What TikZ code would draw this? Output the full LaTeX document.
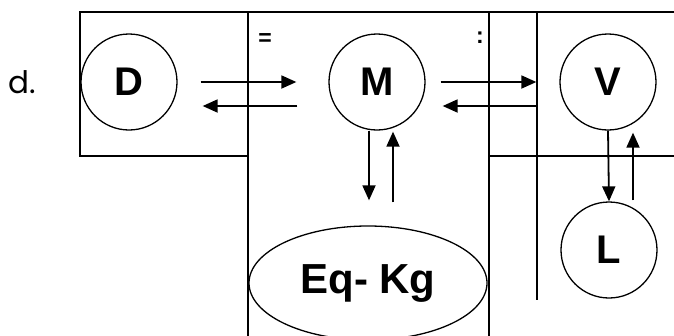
\documentclass[tikz,border=0pt]{standalone}
\usepackage{fontspec}
\setmainfont{Liberation Sans}
\newfontfamily\labfont{Poppins}
\usetikzlibrary{arrows.meta,positioning,shapes.geometric}

\begin{document}
\begin{tikzpicture}[x=1pt,y=-1pt,
spc/.style={draw,circle,line width=1.3pt,minimum size=96pt,inner sep=0pt,font=\bfseries\fontsize{40}{44}\selectfont},
pool/.style={draw,ellipse,line width=1.3pt,minimum width=238pt,minimum height=114pt,inner sep=0pt,font=\bfseries\fontsize{42}{46}\selectfont},
frm/.style={line width=2pt},
sepsign/.style={font=\bfseries\fontsize{23}{26}\selectfont},
arr/.style={-{Triangle[length=15pt,width=13pt]},line width=1.8pt}]
\useasboundingbox (0,0) rectangle (674,335);
\draw[frm] (80,12) rectangle (248,156);
\draw[frm] (248,12)--(674,12);
\draw[frm] (248,12)--(248,340);
\draw[frm] (489,12)--(489,340);
\draw[frm] (537,12)--(537,300);
\draw[frm] (489,156)--(674,156);
\node[font=\labfont\fontsize{31}{34}\selectfont] (lab) at (22,82) {d.};
\node[sepsign] (sepa) at (265,40) {=};
\node[sepsign] (sepb) at (480,38) {:};
\node[spc] (D) at (129,82) {D};
\node[spc] (M) at (377,82) {M};
\node[spc] (V) at (608,82) {V};
\node[spc] (L) at (609,250) {L};
\node[pool] (Eq) at (368,283) {Eq- Kg};
\draw[arr,shorten <=23pt,shorten >=32pt] (D.east)--(M.west);
\draw[arr,shorten <=31pt,shorten >=25pt] ([yshift=-24pt]M.west)--([yshift=-24pt]D.east);
\draw[arr,shorten <=15pt,shorten >=23pt] (M.east)--(V.west);
\draw[arr,shorten <=23pt,shorten >=17pt] ([yshift=-24pt]V.west)--([yshift=-24pt]M.east);
\draw[arr,shorten >=25pt] ([xshift=-8pt]M.south)--([xshift=-8pt]M.south |- Eq.north);
\draw[arr,shorten <=23pt,shorten >=1pt] ([xshift=16pt]M.south |- Eq.north)--([xshift=16pt]M.south);
\draw[arr] (V.south)--(L.north);
\draw[arr,shorten <=1pt,shorten >=2pt] ([xshift=25pt]V.south |- L.north)--([xshift=25pt]V.south);
\end{tikzpicture}
\end{document}
